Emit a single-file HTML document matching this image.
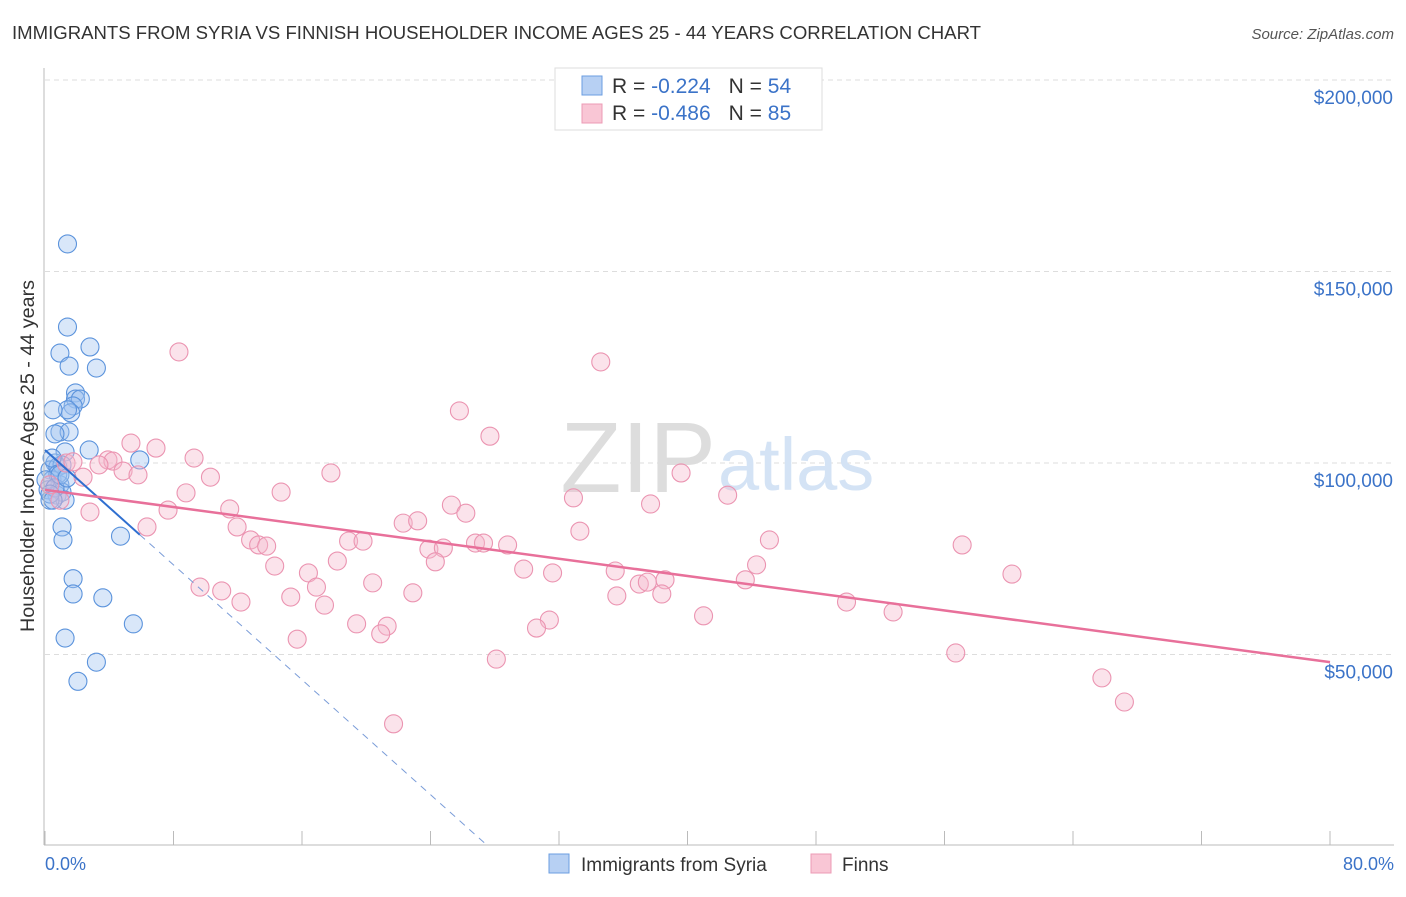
<!DOCTYPE html>
<html><head><meta charset="utf-8"><style>
body{margin:0;background:#fff;font-family:"Liberation Sans",sans-serif}
svg text{font-family:"Liberation Sans",sans-serif}
</style></head><body>
<svg id="c" width="1406" height="892">
<text x="12" y="39" font-size="18" fill="#333" textLength="969" lengthAdjust="spacingAndGlyphs">IMMIGRANTS FROM SYRIA VS FINNISH HOUSEHOLDER INCOME AGES 25 - 44 YEARS CORRELATION CHART</text>
<text x="1394" y="39" font-size="15" fill="#555" font-style="italic" text-anchor="end">Source: ZipAtlas.com</text>
<g id="grid"></g>
<text x="716" y="492" font-size="100" fill="#ddd" text-anchor="end" font-family="Liberation Serif">ZIP</text>
<text x="718" y="490" font-size="74" fill="#d4e3f5">atlas</text>
<g id="marks"></g>
<line x1="44" y1="68" x2="44" y2="845" stroke="#bbb"/>
<line x1="44" y1="845" x2="1394" y2="845" stroke="#bbb"/>
<text x="28" y="462" font-size="19" fill="#333" text-anchor="middle" textLength="352" lengthAdjust="spacingAndGlyphs" transform="rotate(-90 28 456)">Householder Income Ages 25 - 44 years</text>
<text x="45" y="870" font-size="18" fill="#3b73c8">0.0%</text>
<text x="1394" y="870" font-size="18" fill="#3b73c8" text-anchor="end">80.0%</text>
<g>
<rect x="555" y="68" width="267" height="62" fill="#fff" stroke="#ddd"/>
<rect x="582" y="76" width="20" height="19" fill="#b7d0f3" stroke="#6b9ee0"/>
<rect x="582" y="104" width="20" height="19" fill="#f9c6d5" stroke="#ec9bb5"/>
<text x="612" y="93" font-size="21" fill="#333">R = <tspan fill="#3b73c8">-0.224</tspan><tspan dx="18">N = </tspan><tspan fill="#3b73c8">54</tspan></text>
<text x="612" y="120" font-size="21" fill="#333">R = <tspan fill="#3b73c8">-0.486</tspan><tspan dx="18">N = </tspan><tspan fill="#3b73c8">85</tspan></text>
</g>
<g>
<rect x="549" y="854" width="20" height="19" fill="#b7d0f3" stroke="#6b9ee0"/>
<text x="581" y="871" font-size="19" fill="#333">Immigrants from Syria</text>
<rect x="811" y="854" width="20" height="19" fill="#f9c6d5" stroke="#ec9bb5"/>
<text x="842" y="871" font-size="19" fill="#333">Finns</text>
</g>
</svg>
<script>
const yTicks=[50,100,150,200];
const yTickLabels=["$50,000","$100,000","$150,000","$200,000"];
const xTicks=[0,8,16,24,32,40,48,56,64,72,80];
const syriaX=[1.4,1.4,0.93,2.8,1.5,3.2,1.9,1.9,2.2,1.75,1.6,1.4,0.5,0.93,1.5,0.62,2.75,1.25,5.9,0.62,0.31,0.8,1.06,0.44,0.93,0.19,0.75,1.06,1.25,0.31,1.06,1.12,4.7,1.75,1.75,3.6,5.5,1.25,3.2,2.05,0.44,0.8,0.06,0.62,0.31,0.93,1.37,0.5];
const syriaY=[157.2,135.5,128.7,130.3,125.3,124.8,118.3,116.7,116.7,114.9,113.1,113.9,113.9,108.1,108.1,107.6,103.4,102.9,100.8,100,98.2,99,99.5,95.6,94.3,93,91.6,92.4,90.3,90.3,83.3,79.9,80.9,69.8,65.8,64.8,58,54.3,48,43,101.3,97.1,95.6,93.5,91.9,96.9,96.1,90.3];
const finnsX=[8.34,34.6,25.8,27.7,5.35,6.91,9.28,3.92,4.23,3.36,4.86,5.79,17.8,39.6,10.3,2.37,1.31,1.74,8.78,14.7,32.9,42.5,7.66,11.5,25.3,26.2,37.7,2.8,6.35,11.96,22.3,23.2,33.3,12.8,13.3,18.9,19.8,45.1,57.1,13.8,23.9,24.8,26.8,27.3,28.8,24.3,18.2,14.3,16.4,44.3,29.8,31.6,35.5,60.2,16.9,20.4,37.0,37.5,38.6,9.65,43.6,11.0,22.9,15.3,35.6,38.4,12.2,17.4,49.9,52.8,41.0,31.4,19.4,21.3,20.9,30.6,15.7,56.7,28.1,65.8,67.2,21.7,0.3,0.93];
const finnsY=[129.0,126.4,113.6,107.0,105.2,103.9,101.3,100.8,100.5,99.5,97.9,96.9,97.4,97.4,96.3,96.3,100,100.3,92.2,92.4,90.9,91.6,87.7,88.0,89.0,86.9,89.3,87.2,83.3,83.3,84.3,84.9,82.2,79.9,78.6,79.6,79.6,79.9,78.6,78.3,77.5,77.8,79.1,79.1,78.6,74.2,74.4,73.1,71.3,73.4,72.3,71.3,71.8,71.0,67.6,68.7,68.4,68.9,69.5,67.6,69.5,66.6,66.1,65.0,65.3,65.8,63.7,62.9,63.7,61.1,60.1,59.0,58.0,57.4,55.4,56.9,54.0,50.4,48.8,43.9,37.6,31.9,94.3,90.3];
const syriaTrend=[103.4,-3.75];  // intercept (k$), slope per %
const syriaSolidEnd=5.9;
const finnsTrend=[93.0,-0.5625];

const X=v=>45+v*16.0625, Y=v=>846-v*3.83;
const NS="http://www.w3.org/2000/svg";
function mk(t,a,p){const e=document.createElementNS(NS,t);for(const k in a)e.setAttribute(k,a[k]);p.appendChild(e);return e;}
const grid=document.getElementById('grid'), marks=document.getElementById('marks'), svg=document.getElementById('c');
yTicks.forEach((t,i)=>{
 const l=mk('line',{x1:45,x2:1394,y1:Y(t),y2:Y(t),stroke:'#ddd','stroke-dasharray':'5,4'},grid);
 
 
 const tx=mk('text',{x:1393,y:Y(t)+24,'font-size':19,fill:'#3b73c8','text-anchor':'end'},svg);
 tx.textContent=yTickLabels[i];
 
 
});
xTicks.forEach(t=>{
 const l=mk('line',{x1:X(t),x2:X(t),y1:831,y2:845,stroke:'#bbb'},grid);
 
 
});
syriaX.forEach((x,i)=>{
 const c=mk('circle',{cx:X(x),cy:Y(syriaY[i]),r:9,fill:'rgba(160,196,240,0.4)',stroke:'#5b93dc','stroke-width':1.1},marks);
 
 
});
finnsX.forEach((x,i)=>{
 const c=mk('circle',{cx:X(x),cy:Y(finnsY[i]),r:9,fill:'rgba(246,185,205,0.4)',stroke:'#eb94b1','stroke-width':1.1},marks);
 
 
});
const sx0=-syriaTrend[0]/syriaTrend[1];
const d=mk('line',{x1:X(syriaSolidEnd),y1:Y(syriaTrend[0]+syriaTrend[1]*syriaSolidEnd),x2:X(sx0),y2:Y(0),stroke:'#7a9cd8','stroke-width':1,'stroke-dasharray':'7,6'},marks);


const s=mk('line',{x1:X(0),y1:Y(syriaTrend[0]),x2:X(syriaSolidEnd),y2:Y(syriaTrend[0]+syriaTrend[1]*syriaSolidEnd),stroke:'#2f6fd0','stroke-width':2},marks);


const f=mk('line',{x1:X(0),y1:Y(finnsTrend[0]),x2:X(80),y2:Y(finnsTrend[0]+finnsTrend[1]*80),stroke:'#e8709a','stroke-width':2.5},marks);


</script>
</body></html>
